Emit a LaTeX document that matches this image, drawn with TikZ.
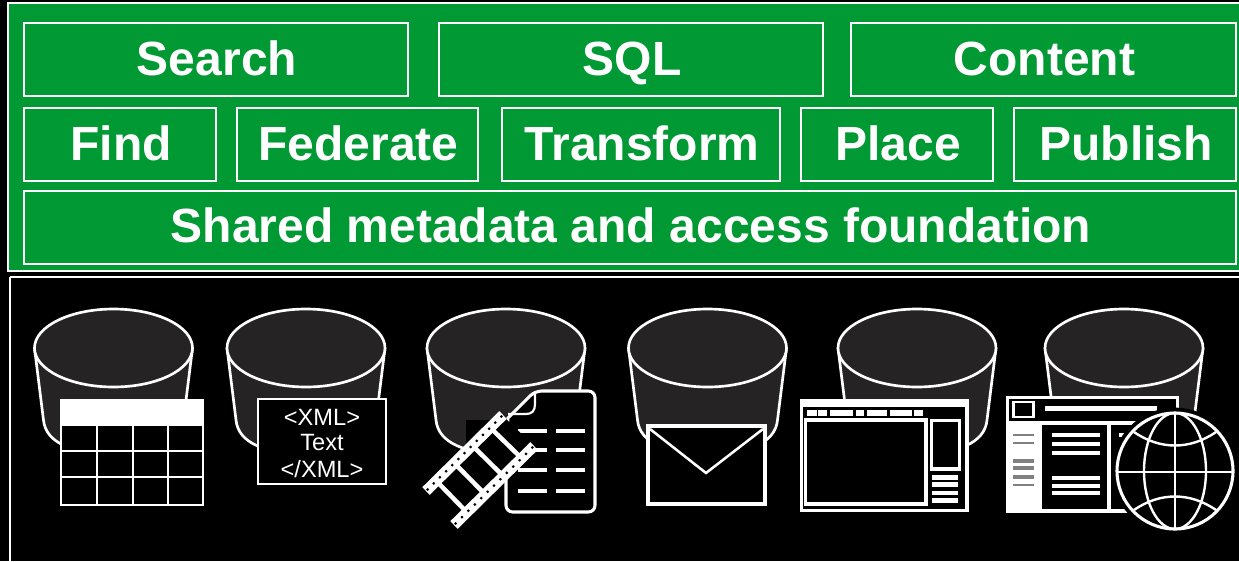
\documentclass[tikz,border=0pt]{standalone}
\usepackage{fontspec}
\setmainfont{Liberation Sans}
\definecolor{grn}{RGB}{0,153,51}
\definecolor{cyl}{RGB}{38,35,36}
\tikzset{
  x=.75pt,y=-.75pt,
  boxline/.style={draw=white,line width=1.6pt,fill=grn},
  lbl/.style={text=white,font=\fontsize{36pt}{36pt}\selectfont\bfseries,inner sep=0pt,text height=25.5pt,text depth=0pt,yshift=.75pt,xshift=.75pt},
  cylline/.style={draw=white,line width=2pt,fill=cyl},
  thin white/.style={draw=white,line width=1.2pt},
  xmltext/.style={text=white,font=\fontsize{17.7pt}{18pt}\selectfont,inner sep=0pt},
}
\newcommand{\cylinder}[1]{%
  \begin{scope}[shift={(#1,348)}]
    \draw[cylline] (-79,0) -- (-70,72) .. controls (-68,95) and (-40,106) .. (0,106) .. controls (40,106) and (68,95) .. (70,72) -- (79,0);
    \draw[cylline] (0,0) ellipse [x radius=79,y radius=39];
  \end{scope}}
\begin{document}
\begin{tikzpicture}
\useasboundingbox (0,0) rectangle (1239,561);
\fill[black] (0,0) rectangle (1239,561);
% frames
\draw[draw=white,line width=1.5pt,fill=grn] (8,3) rectangle (1245,271);
\draw[draw=white,line width=1.5pt] (10,277) -- (1245,277) (10,277) -- (10,570);
% boxes
\draw[boxline] (24,23) rectangle node[lbl] (search) {Search} (408,96);
\draw[boxline] (439,23) rectangle node[lbl] (sql) {SQL} (823,96);
\draw[boxline] (851,23) rectangle node[lbl] (content) {Content} (1236,96);
\draw[boxline] (24,108) rectangle node[lbl] (find) {Find} (216,181);
\draw[boxline] (237,108) rectangle node[lbl] (federate) {Federate} (478,181);
\draw[boxline] (502,108) rectangle node[lbl] (transform) {Transform} (780,181);
\draw[boxline] (801,108) rectangle node[lbl] (place) {Place} (993,181);
\draw[boxline] (1014,108) rectangle node[lbl] (publish) {Publish} (1236,181);
\draw[boxline] (24,191) rectangle node[lbl,yshift=.5pt] (shared) {Shared metadata and access foundation} (1236,264);
% cylinders
\cylinder{113.5}\cylinder{306}\cylinder{506}\cylinder{707.5}\cylinder{917}\cylinder{1124}
% table
\fill[black] (61,400) rectangle (203,505);
\fill[white] (61,400) rectangle (203,425);
\draw[thin white] (61,400) rectangle (203,505);
\foreach \yy in {425,451,477} \draw[thin white] (61,\yy) -- (203,\yy);
\foreach \xx in {97,133,168} \draw[thin white] (\xx,425) -- (\xx,505);
% xml
\draw[draw=white,line width=1.2pt,fill=black] (258,399) rectangle (386,484);
\node[xmltext] (x1) at (322,417) {<XML>};
\node[xmltext] (x2) at (322,442) {Text};
\node[xmltext] (x3) at (322,469) {</XML>};
% document
\fill[black] (466,420) rectangle (510,470);
\begin{scope}[rounded corners=5pt]
\draw[draw=white,line width=2.3pt,fill=black] (508,418) -- (535,391) [rounded corners=5pt] -- (595,391) -- (595,512) -- (506,512) -- (506,440) [sharp corners] -- cycle;
\end{scope}
\draw[white,line width=1.6pt] (535,391) -- (535,404) .. controls (535,411) and (532,414) .. (526,414) -- (508,414);
\foreach \yy in {431,450,470,491} {
  \draw[white,line width=2.4pt] (518,\yy) -- (547,\yy);
  \draw[white,line width=2.4pt] (556,\yy) -- (585,\yy);
}
% film strip
\fill[black] (426,490) -- (502,415) -- (535,447) -- (457,525) -- cycle;
\draw[white,line width=8pt] (426,491) -- (503,415);
\draw[white,line width=8pt] (454,525) -- (534,446);
\foreach \t in {.13,.37,.61,.85} {
  \draw[white,line width=3.4pt] ({428+\t*74},{492-\t*75}) -- ({457+\t*76},{522-\t*75});
}
\foreach \t in {.02,.10,...,1.0} {
  \fill[black] ({426+\t*77},{491-\t*76}) circle (1.5);
  \fill[black] ({454+\t*80},{525-\t*79}) circle (1.5);
}
% envelope
\draw[draw=white,line width=3pt,fill=black] (648,426) rectangle (765,504);
\draw[white,line width=1.9pt] (650,429) -- (706,473) -- (763,429);
% window
\fill[white] (800,399) rectangle (969,512);
\fill[black] (803,407) rectangle (965,509);
\foreach \a/\b in {807/817,818/827,830/853,856/864,867/887,890/912,914/923} \fill[white] (\a,410) rectangle (\b,416);
\fill[white] (804,418) rectangle (928,506);
\fill[black] (807,422) rectangle (924,502);
\fill[white] (930,419) rectangle (961,471);
\fill[black] (933,422) rectangle (958,467);
\foreach \a/\b in {475/480,482/487,491/495,498/503} \fill[white] (932,\a) rectangle (958,\b);
% web page
\fill[white] (1006,396) rectangle (1179,513);
\fill[black] (1009,399) rectangle (1176,421);
\fill[white] (1012,401) rectangle (1035,418);
\fill[black] (1015,403) rectangle (1032,416);
\fill[white] (1045,406) rectangle (1157,411);
\foreach \yy/\w in {435/2,443/1.5,461/2.6,468/2.6,477/2.6,485/2} \draw[gray,line width=\w pt] (1013,\yy) -- (1034,\yy);
\fill[black] (1042,425) rectangle (1107,509);
\fill[black] (1111,425) rectangle (1176,509);
\foreach \yy in {435,444,453,478,486,493} \draw[white,line width=3pt] (1052,\yy) -- (1100,\yy);
\draw[white,line width=3pt] (1119,435) -- (1130,435);
% globe
\begin{scope}[shift={(1175,471)}]
  \draw[draw=black,line width=2pt,fill=black] (0,0) circle (62);
  \draw[white,line width=2.3pt] (0,0) circle (58);
  \draw[white,line width=2pt] (0,-58) -- (0,58) (-58,1) -- (58,1);
  \draw[white,line width=1.8pt] (0,0) ellipse [x radius=31,y radius=58];
  \draw[white,line width=1.8pt] (-41,-39) .. controls (-15,-21) and (15,-21) .. (41,-39);
  \draw[white,line width=1.8pt] (-41,39) .. controls (-15,21) and (15,21) .. (41,39);
\end{scope}
\end{tikzpicture}
\end{document}
